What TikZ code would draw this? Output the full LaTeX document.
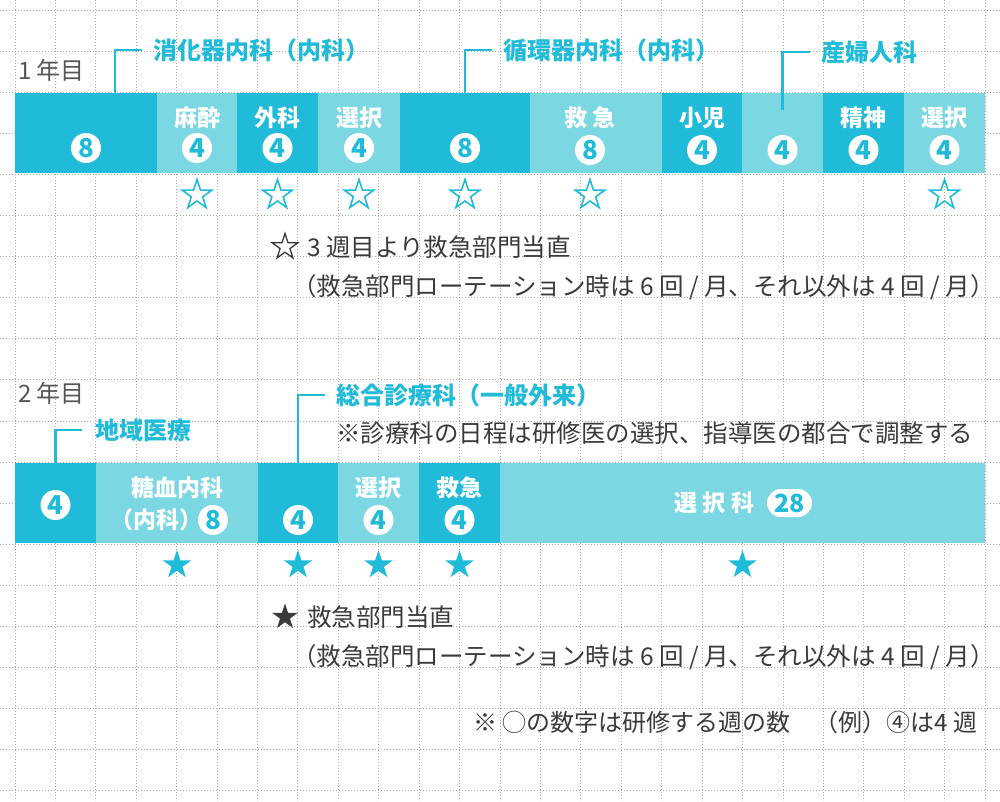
\documentclass[tikz,border=0pt]{standalone}
\usepackage{fontspec}
\setmainfont{Noto Sans CJK JP}
\usetikzlibrary{shapes,positioning,calc}
\definecolor{deepcyan}{HTML}{21BBDA}
\definecolor{palecyan}{HTML}{7BD8E2}
\definecolor{inkgray}{HTML}{3A3A3A}
\definecolor{headgray}{HTML}{555555}
\definecolor{dotgray}{HTML}{A8A8A8}

\begin{document}
\begin{tikzpicture}[x=1pt,y=-1pt]
\tikzstyle{gridline} = [dotgray, line width=0.9pt, dash pattern=on 1pt off 2pt]
\tikzstyle{seg} = [rectangle, minimum height=80pt, inner sep=0pt, outer sep=0pt]
\tikzstyle{darkseg} = [seg, fill=deepcyan]
\tikzstyle{lightseg} = [seg, fill=palecyan]
\tikzstyle{seglabel} = [text=white, inner sep=0pt, font=\fontsize{23}{26}\selectfont\bfseries]
\tikzstyle{weeks} = [circle, fill=white, text=deepcyan, minimum size=30pt, inner sep=0pt, font=\fontsize{26}{28}\selectfont\bfseries]
\tikzstyle{pill} = [rectangle, rounded corners=14pt, fill=white, text=deepcyan, minimum width=45pt, minimum height=28pt, inner sep=0pt, font=\fontsize{25}{27}\selectfont\bfseries]
\tikzstyle{dept} = [text=deepcyan, anchor=west, inner sep=0pt, font=\fontsize{24}{28}\selectfont\bfseries]
\tikzstyle{leader} = [deepcyan, line width=2.5pt]
\tikzstyle{note} = [text=inkgray, anchor=west, inner sep=0pt, font=\fontsize{24.5}{28}\selectfont]
\tikzstyle{year} = [text=headgray, anchor=west, inner sep=0pt, font=\fontsize{24}{28}\selectfont]
\tikzstyle{openstar} = [star, star points=5, star point ratio=2.6, minimum size=31pt, inner sep=0pt, draw=deepcyan, line width=1.6pt]
\tikzstyle{fullstar} = [star, star points=5, star point ratio=2.6, minimum size=30pt, inner sep=0pt, fill=deepcyan]

\useasboundingbox (0,0) rectangle (1000,801);

% dotted grid
\foreach \i in {0,...,24} \draw[gridline] ({15+40.42*\i},0) -- ++(0,801);
\foreach \j in {0,...,19} \draw[gridline] (0,{10+41.1*\j}) -- ++(1000,0);

% first year
\node (yr1) [year] at (18,70) {1 年目};
\node (y1a) [darkseg, minimum width=142pt, anchor=north west] at (15,93) {};
\node (y1b) [lightseg, minimum width=80pt, right=0pt of y1a] {};
\node (y1c) [darkseg, minimum width=81pt, right=0pt of y1b] {};
\node (y1d) [lightseg, minimum width=82pt, right=0pt of y1c] {};
\node (y1e) [darkseg, minimum width=130pt, right=0pt of y1d] {};
\node (y1f) [lightseg, minimum width=132pt, right=0pt of y1e] {};
\node (y1g) [darkseg, minimum width=80pt, right=0pt of y1f] {};
\node (y1h) [lightseg, minimum width=81pt, right=0pt of y1g] {};
\node (y1i) [darkseg, minimum width=81pt, right=0pt of y1h] {};
\node (y1j) [lightseg, minimum width=81pt, right=0pt of y1i] {};

\node (w1a) [weeks] at ([yshift=-15pt]y1a.center) {8};
\node (t1b) [seglabel] at ([yshift=15pt]y1b.center) {麻酔};
\node (w1b) [weeks] at ([yshift=-15pt]y1b.center) {4};
\node (t1c) [seglabel] at ([yshift=15pt]y1c.center) {外科};
\node (w1c) [weeks] at ([yshift=-15pt]y1c.center) {4};
\node (t1d) [seglabel] at ([yshift=15pt]y1d.center) {選択};
\node (w1d) [weeks] at ([yshift=-15pt]y1d.center) {4};
\node (w1e) [weeks] at ([yshift=-15pt]y1e.center) {8};
\node (t1f) [seglabel] at ([xshift=-6pt,yshift=15pt]y1f.center) {救\hspace{6pt}急};
\node (w1f) [weeks] at ([xshift=-6pt,yshift=-17pt]y1f.center) {8};
\node (t1g) [seglabel] at ([yshift=15pt]y1g.center) {小児};
\node (w1g) [weeks] at ([yshift=-17pt]y1g.center) {4};
\node (w1h) [weeks] at ([yshift=-17pt]y1h.center) {4};
\node (t1i) [seglabel] at ([yshift=15pt]y1i.center) {精神};
\node (w1i) [weeks] at ([yshift=-17pt]y1i.center) {4};
\node (t1j) [seglabel] at ([yshift=15pt]y1j.center) {選択};
\node (w1j) [weeks] at ([yshift=-17pt]y1j.center) {4};

\node (gi) [dept] at (153,50) {消化器内科（内科）};
\node (ci) [dept] at (503,50) {循環器内科（内科）};
\node (ob) [dept] at (821,52) {産婦人科};
\draw [leader] ($(y1a.north west)+(100,0)$) |- ([xshift=-11pt]gi.west);
\draw [leader] (y1e.north) |- ([xshift=-11pt]ci.west);
\draw [leader] ([yshift=-17pt]y1h.north) |- ([xshift=-11pt]ob.west);

\foreach \s/\dx in {y1b/0,y1c/0,y1d/0,y1e/0,y1f/-6,y1j/0}
  \node (o-\s) [openstar] at ([xshift=\dx pt,yshift=-62pt]\s.center) {};

\node (k1) [openstar, draw=inkgray, minimum size=27pt, line width=1.3pt] at (285,247) {};
\node (k1t) [note] at (307,247) {3 週目より救急部門当直};
\node (k1s) [note] at (292,287) {（救急部門ローテーション時は 6 回 / 月、それ以外は 4 回 / 月）};

% second year
\node (yr2) [year] at (18,393) {2 年目};
\node (y2a) [darkseg, minimum width=81pt, anchor=north west] at (15,463) {};
\node (y2b) [lightseg, minimum width=162pt, right=0pt of y2a] {};
\node (y2c) [darkseg, minimum width=80pt, right=0pt of y2b] {};
\node (y2d) [lightseg, minimum width=81pt, right=0pt of y2c] {};
\node (y2e) [darkseg, minimum width=81pt, right=0pt of y2d] {};
\node (y2f) [lightseg, minimum width=485pt, right=0pt of y2e] {};

\node (w2a) [weeks] at ([yshift=-2pt]y2a.center) {4};
\node (t2b) [seglabel] at ([yshift=15pt]y2b.center) {糖血内科};
\node (w2b) [weeks] at ([xshift=36pt,yshift=-17pt]y2b.center) {8};
\node (t2bb) [seglabel, left=-5pt of w2b] {（内科）};
\node (w2c) [weeks] at ([yshift=-17pt]y2c.center) {4};
\node (t2d) [seglabel] at ([yshift=15pt]y2d.center) {選択};
\node (w2d) [weeks] at ([yshift=-17pt]y2d.center) {4};
\node (t2e) [seglabel] at ([yshift=15pt]y2e.center) {救急};
\node (w2e) [weeks] at ([yshift=-17pt]y2e.center) {4};
\node (t2f) [seglabel] at ([xshift=-28pt]y2f.center) {選\hspace{6pt}択\hspace{6pt}科};
\node (w2f) [pill] at ([xshift=47pt]y2f.center) {28};

\node (cm) [dept] at (95,430) {地域医療};
\node (gm) [dept] at (336,395) {総合診療科（一般外来）};
\node (gmnote) [note] at (336,433) {※診療科の日程は研修医の選択、指導医の都合で調整する};
\draw [leader] (y2a.north) |- ([xshift=-13pt]cm.west);
\draw [leader] (y2c.north) |- ([xshift=-11pt]gm.west);

\foreach \s in {y2b,y2c,y2d,y2e,y2f}
  \node (f-\s) [fullstar] at ([yshift=-62pt]\s.center) {};

\node (k2) [fullstar, fill=inkgray, minimum size=27pt] at (285,617) {};
\node (k2t) [note] at (307,617) {救急部門当直};
\node (k2s) [note] at (292,657) {（救急部門ローテーション時は 6 回 / 月、それ以外は 4 回 / 月）};

\node (fn) [note, font=\fontsize{24}{28}\selectfont] at (473,722) {※ ◯の数字は研修する週の数　（例）④は4 週};

\end{tikzpicture}
\end{document}
